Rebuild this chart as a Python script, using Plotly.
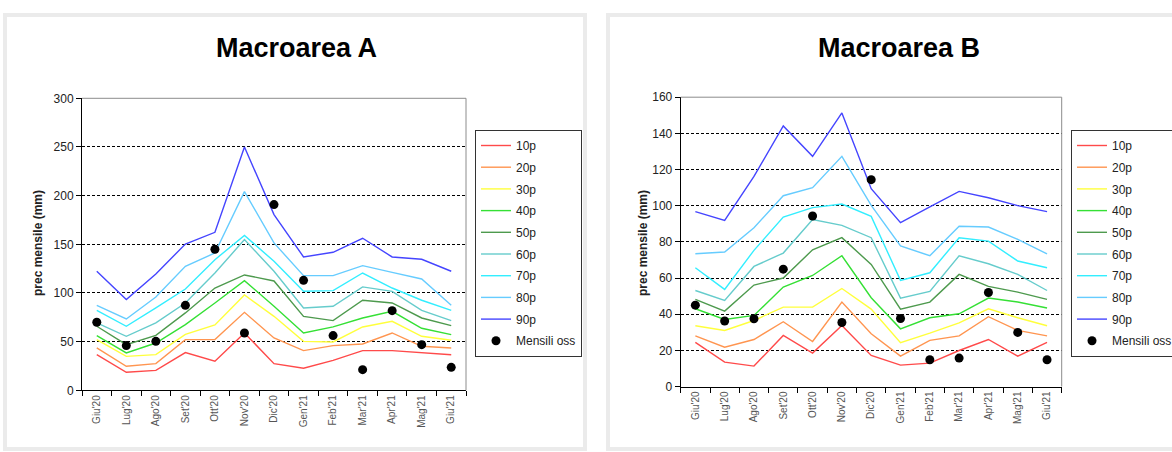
import plotly.graph_objects as go

W, H = 1172, 452

months = ["Giu'20", "Lug'20", "Ago'20", "Set'20", "Ott'20", "Nov'20", "Dic'20",
          "Gen'21", "Feb'21", "Mar'21", "Apr'21", "Mag'21", "Giu'21"]

series_names = ["10p", "20p", "30p", "40p", "50p", "60p", "70p", "80p", "90p"]
obs_name = "Mensili oss"

# Macroarea A
p10_A = [36.6, 18.5, 20.5, 38.7, 29.8, 58.9, 27.4, 22.6, 30.8, 40.8, 40.8, 38.7, 36.6]
p20_A = [43.5, 24.7, 27.4, 52.1, 52.1, 80.1, 53.8, 40.8, 45.9, 47.6, 58.9, 45.2, 43.5]
p30_A = [52.1, 34.9, 36.6, 57.5, 67.1, 97.9, 76.0, 50.3, 49.7, 65.1, 70.9, 55.5, 51.4]
p40_A = [56.2, 38.4, 48.6, 67.5, 89.7, 112.7, 86.3, 58.9, 65.1, 74.3, 81.2, 63.7, 57.2]
p50_A = [65.8, 46.9, 56.5, 79.5, 105.1, 118.5, 112.3, 76.0, 71.6, 92.5, 89.7, 74.3, 66.4]
p60_A = [69.2, 55.5, 69.2, 89.7, 120.5, 154.8, 122.3, 84.6, 86.3, 106.2, 101.7, 82.2, 71.6]
p70_A = [82.2, 65.8, 84.6, 104.1, 134.2, 159.2, 132.5, 101.7, 102.4, 120.5, 105.1, 92.5, 82.2]
p80_A = [87.3, 73.3, 95.9, 127.4, 141.1, 204.1, 151.4, 117.8, 117.8, 128.1, 121.2, 114.4, 87.3]
p90_A = [122.3, 93.2, 119.5, 150.3, 162.3, 250.0, 180.5, 137.0, 141.8, 156.2, 137.0, 134.6, 122.3]
obs_A = [69.9, 45.9, 50.3, 87.3, 144.9, 58.9, 190.8, 113.0, 56.2, 21.2, 81.8, 46.9, 23.6]

# Macroarea B
p10_B = [24.4, 13.5, 11.3, 28.2, 18.5, 33.8, 17.2, 11.8, 12.9, 19.9, 26.0, 16.8, 24.4]
p20_B = [28.0, 21.7, 26.0, 35.8, 24.9, 46.7, 29.2, 16.8, 25.5, 28.0, 38.6, 31.0, 28.0]
p30_B = [33.6, 31.0, 36.5, 43.9, 43.9, 54.2, 42.8, 24.2, 29.5, 35.2, 43.0, 38.0, 33.6]
p40_B = [43.0, 37.1, 39.3, 55.0, 61.4, 72.3, 49.1, 31.9, 38.0, 40.2, 48.9, 46.7, 43.4]
p50_B = [48.2, 41.7, 56.1, 60.0, 75.6, 82.3, 67.5, 42.8, 46.7, 62.0, 55.4, 52.2, 48.2]
p60_B = [53.1, 47.6, 66.4, 73.8, 92.3, 89.1, 82.3, 48.9, 52.6, 72.3, 67.9, 62.0, 53.1]
p70_B = [65.7, 53.7, 75.3, 93.7, 98.9, 100.9, 94.1, 58.7, 62.9, 82.3, 80.4, 69.4, 65.7]
p80_B = [73.4, 74.4, 87.8, 105.5, 110.0, 127.3, 100.2, 77.7, 72.3, 88.6, 88.2, 81.4, 73.4]
p90_B = [96.7, 91.9, 116.2, 144.1, 127.3, 151.3, 109.4, 90.6, 99.3, 107.9, 104.4, 100.0, 96.7]
obs_B = [45.0, 36.2, 37.5, 64.9, 94.3, 35.4, 114.4, 37.6, 14.8, 15.7, 52.0, 29.9, 14.8]

titles = ["Macroarea A", "Macroarea B"]
y_title = "prec mensile (mm)"
y_ticks_A = [0, 50, 100, 150, 200, 250, 300]
y_ticks_B = [0, 20, 40, 60, 80, 100, 120, 140, 160]

colors = ["#FF4A4A", "#FF9550", "#FFFF3C", "#35E035", "#4E9A4E",
          "#66CCCC", "#33EEFF", "#66CCFF", "#4545FF"]

FONT = "Arial, Liberation Sans, sans-serif"

fig = go.Figure()

groups = [
    ([p10_A, p20_A, p30_A, p40_A, p50_A, p60_A, p70_A, p80_A, p90_A], obs_A, "x", "y", "legend"),
    ([p10_B, p20_B, p30_B, p40_B, p50_B, p60_B, p70_B, p80_B, p90_B], obs_B, "x2", "y2", "legend2"),
]
for series, obs, xa, ya, lg in groups:
    for i, (name, vals) in enumerate(zip(series_names, series)):
        fig.add_trace(go.Scatter(
            x=months, y=vals, name=name, mode="lines", xaxis=xa, yaxis=ya,
            legend=lg, legendgroup=f"{lg}{i}",
            line=dict(color=colors[i], width=1.4)))
    fig.add_trace(go.Scatter(
        x=months, y=obs, name=obs_name, mode="markers", xaxis=xa, yaxis=ya,
        legend=lg, legendgroup=f"{lg}obs",
        marker=dict(color="black", size=9)))

def px_x(v):
    return v / W

def px_y(v):
    return 1 - v / H

xdomA = [px_x(82), px_x(466)]
ydomA = [px_y(390.3), px_y(98.3)]
xdomB = [px_x(680.7), px_x(1061.7)]
ydomB = [px_y(386.5), px_y(97.2)]

xcommon = dict(type="category", range=[-0.5, 12.5], tickson="boundaries",
               ticks="outside", ticklen=5, tickcolor="black", tickwidth=1,
               showline=True, linecolor="black", linewidth=1, showgrid=False,
               zeroline=False, tickangle=-90, automargin=False,
               tickfont=dict(family=FONT, size=10, color="#555555"), fixedrange=True)
ycommon = dict(ticks="outside", ticklen=5, tickcolor="black", tickwidth=1,
               showline=True, linecolor="black", linewidth=1, showgrid=True,
               gridcolor="black", gridwidth=1, griddash="3px,2px", zeroline=False,
               automargin=False,
               tickfont=dict(family=FONT, size=12, color="#222222"), fixedrange=True)

fig.update_layout(
    width=W, height=H, margin=dict(l=0, r=0, t=0, b=0, autoexpand=False),
    paper_bgcolor="white", plot_bgcolor="white",
    font=dict(family=FONT, size=12, color="#222222"),
    xaxis=dict(domain=xdomA, anchor="y", categoryorder="array", categoryarray=months, **xcommon),
    yaxis=dict(domain=ydomA, anchor="x", range=[0, 300], tickvals=y_ticks_A, **ycommon),
    xaxis2=dict(domain=xdomB, anchor="y2", categoryorder="array", categoryarray=months, **xcommon),
    yaxis2=dict(domain=ydomB, anchor="x2", range=[0, 160], tickvals=y_ticks_B, **ycommon),
    legend=dict(x=px_x(475), y=px_y(130), xanchor="left", yanchor="top",
                bordercolor="#333333", borderwidth=1, bgcolor="white",
                font=dict(family=FONT, size=12, color="#222222"),
                tracegroupgap=2.7, itemwidth=30),
    legend2=dict(x=px_x(1071), y=px_y(130), xanchor="left", yanchor="top",
                 bordercolor="#333333", borderwidth=1, bgcolor="white",
                 font=dict(family=FONT, size=12, color="#222222"),
                 tracegroupgap=2.7, itemwidth=30),
    showlegend=True,
)

# panel frames
for x0, x1 in [(5, 585), (608, 1180)]:
    fig.add_shape(type="rect", xref="paper", yref="paper",
                  x0=px_x(x0), x1=px_x(x1), y0=px_y(449), y1=px_y(15),
                  line=dict(color="#EBEBEB", width=4), fillcolor="rgba(0,0,0,0)", layer="below")

# plot area frames (gray top/right)
for xr, yr in [("x", "y"), ("x2", "y2")]:
    fig.add_shape(type="line", xref=f"{xr} domain", yref=f"{yr} domain",
                  x0=0, x1=1, y0=1, y1=1, line=dict(color="#8C8C8C", width=1),
                  layer="above")
    fig.add_shape(type="line", xref=f"{xr} domain", yref=f"{yr} domain",
                  x0=1, x1=1, y0=0, y1=1, line=dict(color="#8C8C8C", width=1),
                  layer="above")

# titles
title_font = dict(family=FONT, size=27, color="black")
for txt, cx in zip(titles, [296, 899]):
    fig.add_annotation(text=f"<b>{txt}</b>", xref="paper", yref="paper",
                       x=px_x(cx), y=px_y(48), xanchor="center", yanchor="middle",
                       showarrow=False, font=title_font)

for cx, cy in [(38, 243), (643, 243)]:
    fig.add_annotation(text=f"<b>{y_title}</b>", xref="paper", yref="paper",
                       x=px_x(cx), y=px_y(cy), xanchor="center", yanchor="middle",
                       textangle=-90, showarrow=False,
                       font=dict(family=FONT, size=12, color="#222222"))

fig.write_html("out.html", config={"displayModeBar": False},
               post_script="document.body.style.margin='0';")
